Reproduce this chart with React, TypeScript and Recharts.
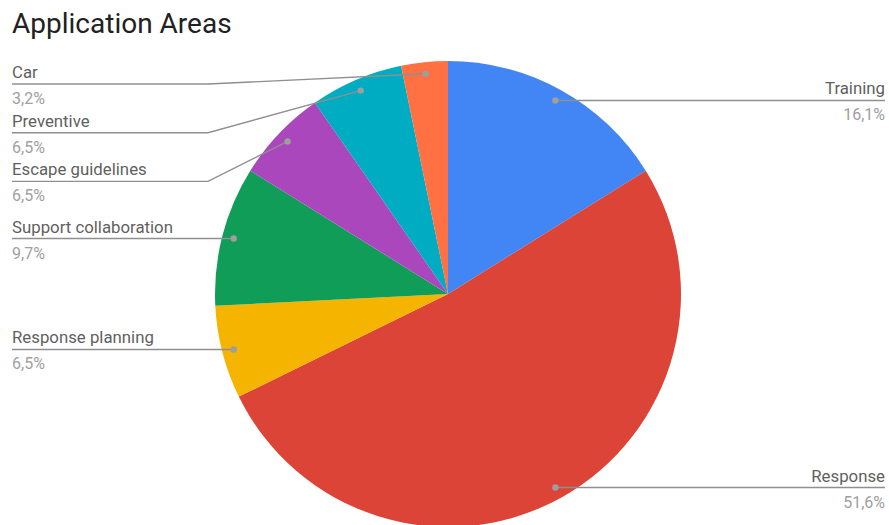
import React from "react";
import { PieChart, Pie, Cell } from "recharts";

const categories = ["Training", "Response", "Response planning", "Support collaboration", "Escape guidelines", "Preventive", "Car"];
const counts = [5, 16, 2, 3, 2, 2, 1];
const colors = ["#4285F4", "#DB4437", "#F4B400", "#0F9D58", "#AB47BC", "#00ACC1", "#FF7043"];
const title = "Application Areas";

const W = 889;
const H = 525;
const CX = 448;
const CY = 294;
const R = 233;
const DOT_R = R * 0.95;
const LEFT_X = 12;
const RIGHT_X = 885;
const LEFT_ELBOW = 208;
const GAP = 48.7;
const MIN_Y = 84;

const total = counts.reduce((a, b) => a + b, 0);
const data = categories.map((name, i) => ({ name, value: counts[i] }));
const pctLabel = (v: number) => ((v / total) * 100).toFixed(1).replace(".", ",") + "%";

type LabelLayout = { dx: number; dy: number; y: number; side: "L" | "R" };

function computeLayout(): LabelLayout[] {
  let cum = 0;
  const out: LabelLayout[] = counts.map((v) => {
    const f = (cum + v / 2) / total;
    cum += v;
    const th = f * Math.PI * 2;
    const dx = CX + DOT_R * Math.sin(th);
    const dy = CY - DOT_R * Math.cos(th);
    return { dx, dy, y: dy, side: dx < CX ? "L" : "R" };
  });
  const left = out.map((o, i) => i).filter((i) => out[i].side === "L").sort((a, b) => out[a].dy - out[b].dy);
  let prev = -Infinity;
  left.forEach((i) => {
    const y = Math.max(out[i].dy, prev + GAP, MIN_Y);
    out[i].y = y;
    prev = y;
  });
  return out;
}
const layout = computeLayout();

const renderLabel = (props: any) => {
  const idx = typeof props.index === "number" ? props.index : categories.indexOf(props.name);
  const l = layout[idx];
  if (!l) return null;
  const isLeft = l.side === "L";
  const endX = isLeft ? LEFT_X : RIGHT_X;
  const elbowX = isLeft ? LEFT_ELBOW : W - LEFT_ELBOW;
  const pts = Math.abs(l.y - l.dy) < 0.5 ? `${l.dx},${l.dy} ${endX},${l.y}` : `${l.dx},${l.dy} ${elbowX},${l.y} ${endX},${l.y}`;
  const anchor = isLeft ? "start" : "end";
  return (
    <g key={`lbl-${idx}`}>
      <polyline points={pts} fill="none" stroke="#8f8f8f" strokeWidth={1.4} />
      <circle cx={l.dx} cy={l.dy} r={3.2} fill="#9e9e9e" />
      <text x={endX} y={l.y - 6} textAnchor={anchor} fontSize={16.8} fill="#5f5f5f" fontFamily="Roboto">
        {categories[idx]}
      </text>
      <text x={endX} y={l.y + 20} textAnchor={anchor} fontSize={16} fill="#a0a0a0" fontFamily="Roboto">
        {pctLabel(counts[idx])}
      </text>
    </g>
  );
};

export default function App() {
  return (
    <div style={{ position: "absolute", left: 0, top: 0, width: W, height: H, background: "#fff", overflow: "hidden" }}>
      <PieChart width={W} height={H} margin={{ top: 0, right: 0, bottom: 0, left: 0 }}>
        <Pie
          data={data}
          dataKey="value"
          nameKey="name"
          cx={CX}
          cy={CY}
          outerRadius={R}
          startAngle={90}
          endAngle={-270}
          stroke="none"
          label={renderLabel}
          labelLine={false}
          isAnimationActive={false}
        >
          {data.map((d, i) => (
            <Cell key={d.name} fill={colors[i]} />
          ))}
        </Pie>
      </PieChart>
      <div
        style={{
          position: "absolute",
          left: 12,
          top: 6,
          fontFamily: "Roboto",
          fontSize: 28,
          lineHeight: "35px",
          color: "#212121",
        }}
      >
        {title}
      </div>
    </div>
  );
}
